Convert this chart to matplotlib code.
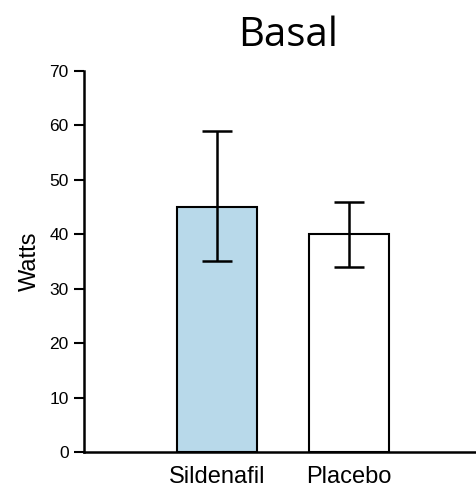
import numpy as np
import matplotlib.pyplot as plt

groups = ['Sildenafil', 'Placebo']
means = [45, 40]
err_low = [10, 6]
err_high = [14, 6]
colors = ['#b8d9ea', '#ffffff']


def plot_bars():
    fig = plt.figure(figsize=(4.77, 4.90), dpi=100)
    ax = fig.add_axes([0.176, 0.0776, 0.824, 0.7776])

    x = np.arange(len(groups))
    ax.bar(x, means, width=0.606, color=colors, edgecolor='black', linewidth=1.5)
    ax.errorbar(x, means, yerr=[err_low, err_high], fmt='none', ecolor='black',
                elinewidth=1.8, capsize=11, capthick=1.8)

    ax.set_xlim(-1.008, 1.97)
    ax.set_ylim(0, 70)
    ax.set_yticks(range(0, 71, 10))
    ax.set_xticks(x)
    ax.set_xticklabels(groups, fontsize=17, family='Liberation Sans')
    ax.tick_params(axis='x', length=0, pad=10)
    ax.tick_params(axis='y', direction='out', length=7, width=1.5, labelsize=12.5, pad=4)
    for lab in ax.get_yticklabels():
        lab.set_family('Liberation Sans')

    for side in ['top', 'right']:
        ax.spines[side].set_visible(False)
    ax.spines['left'].set_linewidth(1.8)
    ax.spines['bottom'].set_linewidth(1.8)

    ax.set_ylabel('Watts', fontsize=17, family='Liberation Sans', labelpad=6)
    fig.text(0.605, 0.906, 'Basal', fontsize=29, family='Open Sans',
             ha='center', va='baseline')

    fig.savefig('out.png', dpi=100)


if __name__ == '__main__':
    plot_bars()
